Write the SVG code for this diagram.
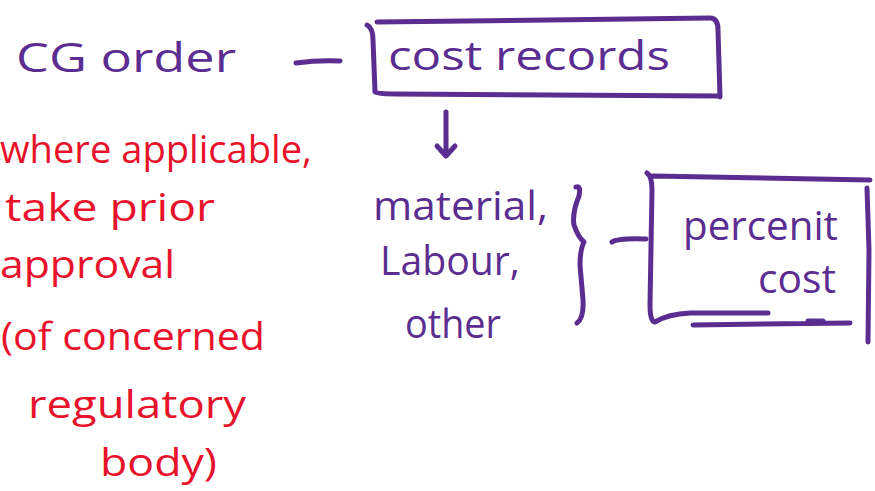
<svg xmlns="http://www.w3.org/2000/svg" width="875" height="491" viewBox="0 0 875 491">
<style>
.p{fill:#5b2d91;font-family:"Open Sans","DejaVu Sans",sans-serif;font-size:40px}
.r{fill:#e8132b;font-family:"Open Sans","DejaVu Sans",sans-serif;font-size:38px}
.s{fill:none;stroke:#5b2d91;stroke-width:5;stroke-linecap:round;stroke-linejoin:round}
</style>
<rect width="875" height="491" fill="#fff"/>
<g id="cg-order">
<text class="p" x="16" y="72" textLength="220" lengthAdjust="spacingAndGlyphs">CG order</text>
</g>
<g id="cost-records">
<path class="s" d="M367,25 Q373,28 373,40 L375,92 Q376,94 395,94 L718,96 M377,22 L710,18 Q718,18 718,30 L720,97"/>
<text class="p" x="388" y="70" textLength="282" lengthAdjust="spacingAndGlyphs">cost records</text>
</g>
<g id="cost-elements">
<text class="p" x="373" y="220" textLength="175" lengthAdjust="spacingAndGlyphs">material,</text>
<text class="p" x="380" y="275" textLength="140" lengthAdjust="spacingAndGlyphs">Labour,</text>
<text class="p" x="405" y="338" textLength="96" lengthAdjust="spacingAndGlyphs">other</text>
</g>
<g id="permit-cost">
<path class="s" d="M647,173 Q652,176 652,190 L650,305 Q650,322 655,322 Q668,314 690,313 L768,313 M652,176 L870,180 M867,188 L869,250 L868,342 M693,325 L850,323 M808,321 L823,321"/>
<text class="p" x="683" y="240" textLength="155" lengthAdjust="spacingAndGlyphs">percenit</text>
<text class="p" x="758" y="293" textLength="78" lengthAdjust="spacingAndGlyphs">cost</text>
</g>
<g id="note">
<text class="r" x="0" y="163" textLength="312" lengthAdjust="spacingAndGlyphs">where applicable,</text>
<text class="r" x="5" y="221" textLength="210" lengthAdjust="spacingAndGlyphs">take prior</text>
<text class="r" x="0" y="278" textLength="175" lengthAdjust="spacingAndGlyphs">approval</text>
<text class="r" x="1" y="350" textLength="264" lengthAdjust="spacingAndGlyphs">(of concerned</text>
<text class="r" x="28" y="418" textLength="218" lengthAdjust="spacingAndGlyphs">regulatory</text>
<text class="r" x="100" y="476" textLength="117" lengthAdjust="spacingAndGlyphs">body)</text>
</g>
<g id="connectors">
<path class="s" d="M296,63 Q318,60 340,61"/>
<path class="s" d="M446,112 L446,154 M437,146 L446,156 L455,146"/>
<path class="s" d="M576,187 Q581,185 579,196 Q572,213 574,225 Q578,237 584,242 Q580,250 580,265 L583,300 Q584,318 577,323"/>
<path class="s" d="M612,242 Q618,238 646,239"/>
</g>
</svg>
